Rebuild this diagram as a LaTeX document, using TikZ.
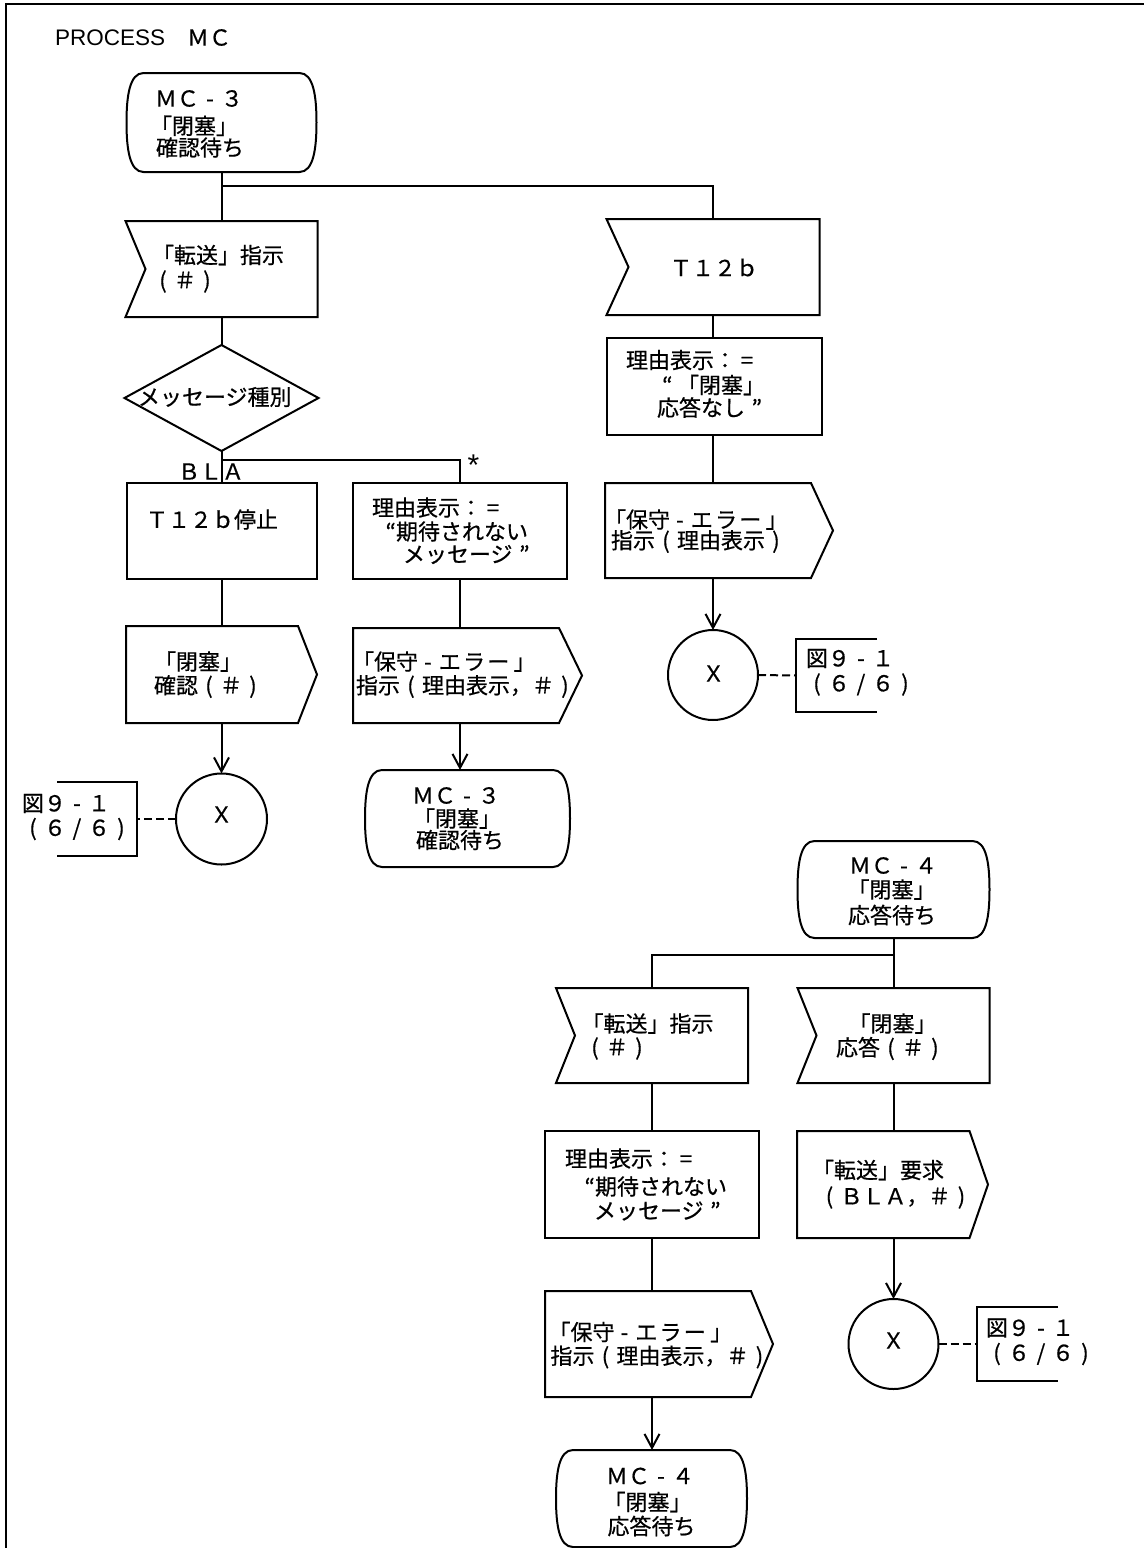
\documentclass[tikz,border=0pt]{standalone}
\usepackage{fontspec}
\setmainfont{Noto Sans CJK JP}[FakeBold=0.6]
\newfontfamily\lib{Liberation Sans}
\usetikzlibrary{arrows.meta,calc}
\newcommand\hy{\makebox[1em]{-}}
\newcommand\kb[1]{\makebox[1.1em]{#1}}
\newcommand\lp{\makebox[1em]{(}}
\newcommand\rp{\makebox[1em]{)}}
\newcommand\sla{\makebox[1em]{/}}
\newcommand\eqs{\makebox[1em]{=}}
\tikzset{
  every node/.style={inner sep=0pt, outer sep=0pt},
  shp/.style 2 args={draw=none, rectangle, minimum width=#1pt, minimum height=#2pt},
  outline/.style={line width=2pt, line join=miter},
  conn/.style={line width=2pt},
  arr/.style={line width=2pt, -{Straight Barb[length=14pt,width=15pt]}},
  refdash/.style={line width=2pt, dash pattern=on 8pt off 4pt},
  txt/.style={anchor=west, font=\fontsize{22}{26}\selectfont},
  conncirc/.style={circle, draw, line width=2pt, minimum size=#1pt},
}
\newcommand\drawterm[1]{\draw[outline] ([xshift=17pt]#1.north west) -- ([xshift=-17pt]#1.north east)
  .. controls ([xshift=-3pt]#1.north east) and ([yshift=26pt]#1.east) .. (#1.east)
  .. controls ([yshift=-26pt]#1.east) and ([xshift=-3pt]#1.south east) .. ([xshift=-17pt]#1.south east)
  -- ([xshift=17pt]#1.south west)
  .. controls ([xshift=3pt]#1.south west) and ([yshift=-26pt]#1.west) .. (#1.west)
  .. controls ([yshift=26pt]#1.west) and ([xshift=3pt]#1.north west) .. ([xshift=17pt]#1.north west) -- cycle;}
\newcommand\drawin[2]{\draw[outline] (#1.north west) -- (#1.north east) -- (#1.south east) -- (#1.south west) -- ([xshift=#2pt]#1.west) -- cycle;}
\newcommand\drawout[2]{\draw[outline] (#1.north west) -- ([xshift=-#2pt]#1.north east) -- (#1.east) -- ([xshift=-#2pt]#1.south east) -- (#1.south west) -- cycle;}
\newcommand\drawtask[1]{\draw[outline] (#1.north west) rectangle (#1.south east);}
\newcommand\drawdia[1]{\draw[outline] (#1.north) -- (#1.east) -- (#1.south) -- (#1.west) -- cycle;}
\newcommand\drawrefL[1]{\draw[outline] (#1.north west) -- (#1.north east) -- (#1.south east) -- (#1.south west);}
\newcommand\drawrefR[1]{\draw[outline] (#1.north east) -- (#1.north west) -- (#1.south west) -- (#1.south east);}
\newcommand\tl[4]{\node[txt] (#1) at (#2,#3) {#4};}
\begin{document}
\begin{tikzpicture}[x=1pt, y=-1pt]
\useasboundingbox (0,0) rectangle (1144,1548);
\fill[white] (0,0) rectangle (1144,1548);
% frame
\draw[line width=2pt] (6,1548) -- (6,4) -- (1144,4);
\node[txt] (title) at (55,37.5) {{\lib\fontsize{22.5}{26}\selectfont PROCESS}　ＭＣ};

% ---------- shapes ----------
\node[shp={190}{99}] (s1) at (221.5,122.5) {};
\node[shp={192}{96}] (i1) at (221.5,269) {};
\node[shp={194}{106}] (d1) at (221.5,398) {};
\node[shp={190}{96}] (b1) at (221.5,531) {};
\node[shp={191}{97}] (o1) at (221.5,674.5) {};
\node[conncirc=91] (c1) at (221.5,819) {};
\node[shp={80}{74}] (ref1) at (97,819) {};

\node[shp={214}{96}] (b2) at (460,531) {};
\node[shp={229}{95}] (o2) at (467.5,675.5) {};
\node[shp={205}{97}] (t2) at (467.5,818.5) {};

\node[shp={213}{96}] (i2) at (713,267) {};
\node[shp={215}{97}] (b3) at (714.5,386.5) {};
\node[shp={228}{95}] (o3) at (719,530.5) {};
\node[conncirc=90] (c2) at (713,675) {};
\node[shp={81}{73}] (ref2) at (836.5,675.5) {};

\node[shp={192}{97}] (t3) at (893.5,889.5) {};
\node[shp={192}{95}] (i3) at (652,1035.5) {};
\node[shp={192}{95}] (i4) at (893.5,1035.5) {};
\node[shp={214}{107}] (b4) at (652,1184.5) {};
\node[shp={191}{107}] (o4) at (892.5,1184.5) {};
\node[shp={228}{106}] (o5) at (659,1344) {};
\node[conncirc=90] (c3) at (893.5,1344) {};
\node[shp={81}{74}] (ref3) at (1017.5,1344) {};
\node[shp={191}{97}] (t4) at (651.5,1498.5) {};

\drawterm{s1}
\drawin{i1}{20}
\drawdia{d1}
\drawtask{b1}
\drawout{o1}{19}
\drawrefL{ref1}
\drawtask{b2}
\drawout{o2}{23}
\drawterm{t2}
\drawin{i2}{22}
\drawtask{b3}
\drawout{o3}{22}
\drawrefR{ref2}
\drawterm{t3}
\drawin{i3}{19}
\drawin{i4}{19}
\drawtask{b4}
\drawout{o4}{18.5}
\drawout{o5}{22}
\drawrefR{ref3}
\drawterm{t4}

% ---------- connectors ----------
\coordinate (j1) at (221.5,186);
\coordinate (j2) at (221.5,460);
\coordinate (j3) at (893.5,955);
\draw[conn] (s1.south) -- (i1.north);
\draw[conn] (j1) -| (i2.north);
\draw[conn] (i1.south) -- (d1.north);
\draw[conn] (d1.south) -- (b1.north);
\draw[conn] (j2) -| (b2.north);
\draw[conn] (b1.south) -- (o1.north);
\draw[arr] (o1.south) -- (c1.north);
\draw[refdash] (c1.west) -- (ref1.east);
\draw[conn] (b2.south) -- (b2.south |- o2.north);
\draw[arr] (b2.south |- o2.south) -- (b2.south |- t2.north);
\draw[conn] (i2.south) -- (i2.south |- b3.north);
\draw[conn] (i2.south |- b3.south) -- (i2.south |- o3.north);
\draw[arr] (i2.south |- o3.south) -- (c2.north);
\draw[refdash] (c2.east) -- (ref2.west);
\draw[conn] (t3.south) -- (i4.north);
\draw[conn] (j3) -| (i3.north);
\draw[conn] (i3.south) -- (b4.north);
\draw[conn] (b4.south) -- (i3.south |- o5.north);
\draw[arr] (i3.south |- o5.south) -- (i3.south |- t4.north);
\draw[conn] (i4.south) -- (i4.south |- o4.north);
\draw[arr] (i4.south |- o4.south) -- (c3.north);
\draw[refdash] (c3.east) -- (ref3.west);

% ---------- texts ----------
\tl{s1a}{155}{98.5}{ＭＣ\hy３}
\tl{s1b}{150}{125.8}{「閉塞」}
\tl{s1c}{156}{147.5}{確認待ち}

\tl{i1a}{152}{255}{「転送」指示}
\tl{i1b}{152}{281.5}{\lp＃\rp}

\tl{d1a}{138}{397}{メッセージ種別}
\tl{lbla}{178}{471.5}{ＢＬＡ}
\node[font=\lib\fontsize{30}{30}\selectfont] (lstar) at (473.5,465) {*};

\tl{b1a}{146}{519.5}{Ｔ１２ｂ停止}

\tl{b2a}{372}{507.5}{理由表示：\eqs}
\tl{b2b}{396}{531.5}{\llap{“}期待されない}
\tl{b2c}{403}{554.5}{メッセージ\rlap{\hspace{0.3em}”}}

\tl{o1a}{154}{661.5}{「閉塞」}
\tl{o1b}{154}{686.5}{確認\lp＃\rp}
\node[font=\fontsize{22}{26}\selectfont] (c1x) at (221.5,814.5) {Ｘ};
\tl{ref1a}{22}{803.5}{図９\hy １}
\tl{ref1b}{22}{829}{\lp６\sla６\rp}

\tl{o2a}{352}{661.5}{「保守\makebox[0.9em]{-}\kb{エ}\kb{ラ}\kb{ー}\hspace{0.15em}」}
\tl{o2b}{356}{686.5}{指示\lp 理由表示，＃\rp}

\tl{t2a}{412}{795.5}{ＭＣ\hy３}
\tl{t2b}{413}{818.5}{「閉塞」}
\tl{t2c}{416}{840}{確認待ち}

\tl{i2a}{670}{267.5}{Ｔ１２ｂ}

\tl{b3a}{626}{360}{理由表示：\eqs}
\tl{b3b}{677}{385}{\llap{“\hspace{0.2em}}「閉塞」}
\tl{b3c}{657}{407.5}{応答なし\rlap{\hspace{0.3em}”}}

\tl{o3a}{604}{519.5}{「保守\makebox[0.9em]{-}\kb{エ}\kb{ラ}\kb{ー}\hspace{0.15em}」}
\tl{o3b}{611}{541.5}{指示\lp 理由表示\rp}

\node[font=\fontsize{22}{26}\selectfont] (c2x) at (713.5,673.5) {Ｘ};
\tl{ref2a}{806}{658.5}{図９\hy １}
\tl{ref2b}{806}{684.5}{\lp６\sla６\rp}

\tl{t3a}{849}{865.5}{ＭＣ\hy ４}
\tl{t3b}{847.5}{889.5}{「閉塞」}
\tl{t3c}{848}{915}{応答待ち}

\tl{i3a}{581.5}{1023.5}{「転送」指示}
\tl{i3b}{584}{1048.5}{\lp＃\rp}
\tl{i4a}{848.5}{1023.5}{「閉塞」}
\tl{i4b}{836}{1048.5}{応答\lp＃\rp}

\tl{b4a}{565}{1158.5}{理由表示：\eqs}
\tl{b4b}{595}{1186.5}{\llap{“}期待されない}
\tl{b4c}{594}{1211}{メッセージ\rlap{\hspace{0.3em}”}}

\tl{o4a}{812}{1170}{「転送」要求}
\tl{o4b}{818.5}{1197.5}{\lp ＢＬＡ，＃\rp}

\tl{o5a}{548.5}{1332}{「保守\makebox[0.9em]{-}\kb{エ}\kb{ラ}\kb{ー}\hspace{0.15em}」}
\tl{o5b}{550.5}{1357}{指示\lp 理由表示，＃\rp}

\node[font=\fontsize{22}{26}\selectfont] (c3x) at (893.5,1340.5) {Ｘ};
\tl{ref3a}{986}{1328}{図９\hy １}
\tl{ref3b}{986}{1354}{\lp６\sla６\rp}

\tl{t4a}{606}{1476}{ＭＣ\hy ４}
\tl{t4b}{603.5}{1502}{「閉塞」}
\tl{t4c}{607.5}{1526}{応答待ち}
\end{tikzpicture}
\end{document}
